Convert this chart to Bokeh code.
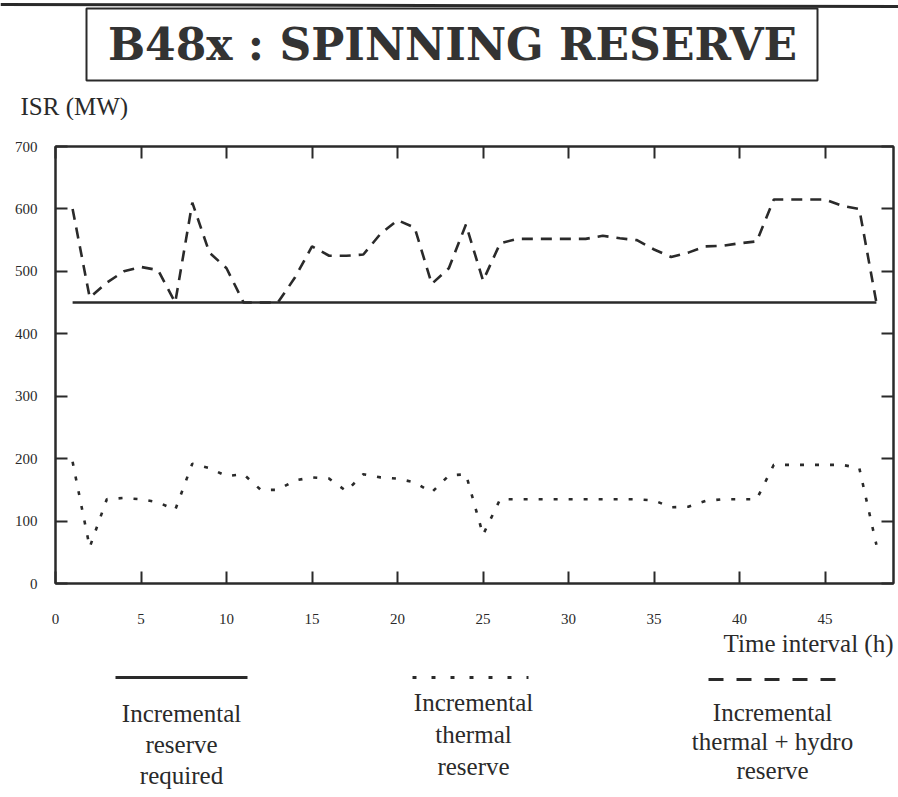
from bokeh.plotting import figure
from bokeh.layouts import column
from bokeh.models import LinearAxis, FixedTicker, Range1d, ColumnDataSource
from bokeh.core.properties import value
from bokeh.embed import file_html
from bokeh.resources import INLINE

# ---- data -------------------------------------------------------------
hours = list(range(1, 49))

reserve_required = [450] * 48

thermal_reserve = [
    195, 58, 135, 137, 135, 130, 118, 192, 185, 172,
    175, 150, 150, 165, 170, 168, 148, 175, 170, 168,
    162, 146, 173, 175, 78, 135, 135, 135, 135, 135,
    135, 135, 135, 135, 133, 122, 123, 132, 135, 135,
    135, 190, 190, 190, 190, 190, 185, 62,
]

thermal_hydro_reserve = [
    600, 458, 482, 500, 507, 502, 450, 610, 530, 505,
    450, 450, 450, 490, 540, 525, 525, 527, 560, 582,
    570, 480, 505, 575, 485, 545, 552, 552, 552, 552,
    552, 557, 553, 550, 535, 523, 530, 540, 541, 545,
    548, 615, 615, 615, 615, 605, 600, 450,
]

x_ticks = [0, 5, 10, 15, 20, 25, 30, 35, 40, 45]
y_ticks = [0, 100, 200, 300, 400, 500, 600, 700]

title_text = "B48x : SPINNING RESERVE"
y_title = "ISR (MW)"
x_title = "Time interval (h)"
legend_captions = [
    ["Incremental", "reserve", "required"],
    ["Incremental", "thermal", "reserve"],
    ["Incremental", "thermal + hydro", "reserve"],
]

# ---- styling ----------------------------------------------------------
INK = "#2a2a2a"
SERIF = "Liberation Serif"
W = 898
HEADER_H, MAIN_H, FOOTER_H = 120, 508, 169


def canvas(height):
    """A bare figure whose frame fills it, with y measured downward in px."""
    f = figure(
        width=W, height=height,
        x_range=Range1d(0, W), y_range=Range1d(height, 0),
        output_backend="svg", toolbar_location=None,
        x_axis_location=None, y_axis_location=None,
        min_border=0, frame_align=False,
        background_fill_color="white", border_fill_color="white",
    )
    f.grid.visible = False
    f.outline_line_color = None
    return f


# ---- header: page rule, boxed title, y-axis caption ---------------------
header = canvas(HEADER_H)
header.segment(x0=[0], y0=[4], x1=[W], y1=[6], line_color=INK, line_width=3)
header.quad(left=[86], right=[817], top=[8], bottom=[80],
            fill_color=None, line_color=INK, line_width=2)
header.text(x=[452], y=[44], text=[title_text],
            text_font=value("DejaVu Serif"), text_font_size=value("44px"),
            text_font_style="bold", text_color="#333333",
            text_align="center", text_baseline="middle")
header.text(x=[20], y=[106], text=[y_title],
            text_font=value(SERIF), text_font_size=value("25px"),
            text_color=INK, text_align="left", text_baseline="middle")

# ---- main chart ---------------------------------------------------------
src = ColumnDataSource(dict(
    h=hours, req=reserve_required, th=thermal_reserve, thh=thermal_hydro_reserve
))

p = figure(
    width=W, height=MAIN_H,
    x_range=Range1d(0, 49), y_range=Range1d(0, 700),
    output_backend="svg", toolbar_location=None,
    x_axis_location=None, y_axis_location=None,
    min_border_left=55, min_border_right=5,
    min_border_top=26, min_border_bottom=45, frame_align=False,
    background_fill_color="white", border_fill_color="white",
)
p.grid.visible = False
p.outline_line_color = INK
p.outline_line_width = 2


def make_axis(labels=True, **kw):
    ax = LinearAxis(**kw)
    ax.axis_line_color = INK
    ax.axis_line_width = 2
    ax.major_tick_line_color = INK
    ax.major_tick_line_width = 2
    ax.major_tick_in = 12
    ax.major_tick_out = 0
    ax.minor_tick_line_color = None
    if labels:
        ax.major_label_text_font = SERIF
        ax.major_label_text_font_size = "15px"
        ax.major_label_text_color = INK
    else:
        ax.major_label_text_color = None
        ax.major_label_standoff = 0
    return ax


bottom = make_axis(ticker=FixedTicker(ticks=x_ticks))
bottom.major_label_standoff = 30
left = make_axis(ticker=FixedTicker(ticks=y_ticks))
left.major_label_standoff = 18
top = make_axis(labels=False, ticker=FixedTicker(ticks=x_ticks))
right = make_axis(labels=False, ticker=FixedTicker(ticks=y_ticks))

p.add_layout(bottom, "below")
p.add_layout(left, "left")
p.add_layout(top, "above")
p.add_layout(right, "right")

p.line("h", "req", source=src, line_color=INK, line_width=2.5)
p.line("h", "th", source=src, line_color=INK, line_width=2.6, line_dash="4 11")
p.line("h", "thh", source=src, line_color=INK, line_width=2.6, line_dash="11 8")

# ---- footer: x-axis caption and legend ---------------------------------
footer = canvas(FOOTER_H)
footer.text(x=[893], y=[15], text=[x_title],
            text_font=value(SERIF), text_font_size=value("25px"),
            text_color=INK, text_align="right", text_baseline="middle")

# line samples (solid, dotted, dashed)
footer.segment(x0=[115], y0=[49], x1=[247], y1=[49], line_color=INK, line_width=3)
footer.segment(x0=[412], y0=[49], x1=[528], y1=[49], line_color=INK,
               line_width=3, line_dash="4 15")
footer.segment(x0=[708], y0=[51], x1=[845], y1=[51], line_color=INK,
               line_width=3, line_dash="15 13")

caption_x = [181, 473, 772]
caption_y0 = [85, 74, 84]
caption_step = [31, 32, 29]
for cx, cy, step, lines in zip(caption_x, caption_y0, caption_step, legend_captions):
    footer.text(x=[cx] * len(lines), y=[cy + step * i for i in range(len(lines))],
                text=lines, text_font=value(SERIF), text_font_size=value("25px"),
                text_color=INK, text_align="center", text_baseline="middle")

layout = column(header, p, footer, spacing=0)
open("out.html", "w").write(file_html(layout, INLINE))
